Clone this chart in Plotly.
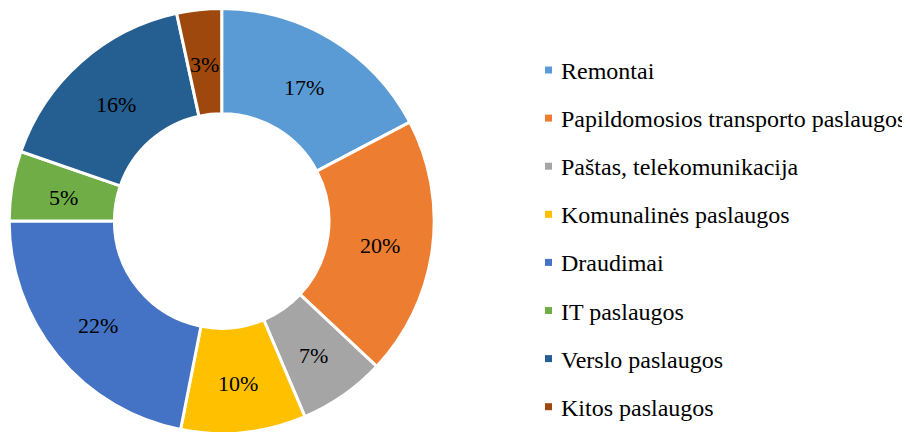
import math
import plotly.graph_objects as go

labels = ["Remontai", "Papildomosios transporto paslaugos", "Paštas, telekomunikacija",
          "Komunalinės paslaugos", "Draudimai", "IT paslaugos", "Verslo paslaugos", "Kitos paslaugos"]
# shares (%); the labels show them rounded
values = [17.3, 19.7, 6.6, 9.5, 21.9, 5.3, 16.3, 3.4]
colors = ["#5B9BD5", "#ED7D31", "#A5A5A5", "#FFC000", "#4472C4", "#70AD47", "#255E91", "#9E480E"]

# the page body has an 8px margin; coordinates below are page pixels
OX, OY = 8, 8
W, H = 910 - OX, 434 - OY
FONT = "Liberation Serif, Times New Roman, serif"

cx, cy, r = 221.7 - OX, 221 - OY, 212.5
hole = 0.505
label_r, label_dy = 160, 3


def px(x):
    return x / W


def py(y):
    return 1 - y / H


fig = go.Figure(go.Pie(
    labels=labels,
    values=values,
    sort=False,
    direction="clockwise",
    rotation=0,
    hole=hole,
    marker=dict(colors=colors, line=dict(color="white", width=3)),
    textinfo="none",
    showlegend=False,
    hoverinfo="label+percent",
    domain=dict(x=[(cx - r) / W, (cx + r) / W],
                y=[max(0, (H - cy - r) / H), min(1, (H - cy + r) / H)]),
))

annotations = []
shapes = []

# percentage labels in the middle of the ring at each slice's mid-angle
total = sum(values)
cum = 0
for v in values:
    ang = 2 * math.pi * (cum + v / 2) / total
    cum += v
    lx = cx + label_r * math.sin(ang)
    ly = cy - label_r * math.cos(ang) + label_dy
    pct = int(math.floor(100 * v / total + 0.5))
    annotations.append(dict(text=f"{pct}%", xref="paper", yref="paper",
                            x=px(lx), y=py(ly), xanchor="center", yanchor="middle",
                            showarrow=False,
                            font=dict(family=FONT, size=22, color="black")))

# legend
ly0, ldy = 71 - OY, 48.1
for i, (lab, col) in enumerate(zip(labels, colors)):
    yy = ly0 + ldy * i
    shapes.append(dict(type="rect", xref="paper", yref="paper",
                       x0=px(545 - OX), x1=px(552 - OX), y0=py(yy + 2.5), y1=py(yy - 4.5),
                       fillcolor=col, line=dict(width=0)))
    annotations.append(dict(text=lab, xref="paper", yref="paper", x=px(558.5 - OX), y=py(yy),
                            xanchor="left", yanchor="middle", showarrow=False,
                            font=dict(family=FONT, size=24, color="black")))

fig.update_layout(
    width=W, height=H,
    margin=dict(l=0, r=0, t=0, b=0),
    paper_bgcolor="white", plot_bgcolor="white",
    annotations=annotations, shapes=shapes,
)

fig.write_html("out.html")
